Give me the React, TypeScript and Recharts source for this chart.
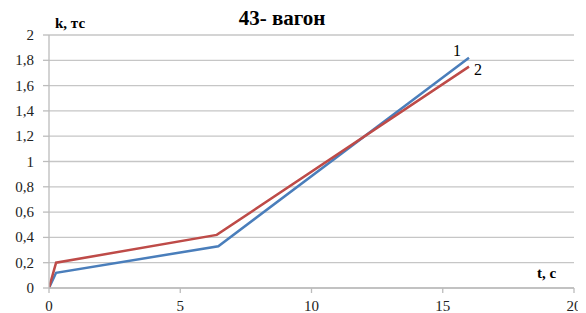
import React from "react";
import { LineChart, Line, XAxis, YAxis, CartesianGrid } from "recharts";

const timeSeries1 = [0, 0.27, 6.45, 16];
const kSeries1 = [0, 0.12, 0.33, 1.82];
const timeSeries2 = [0, 0.27, 6.39, 16];
const kSeries2 = [0, 0.2, 0.42, 1.75];
const xTicks = [0, 5, 10, 15, 20];
const yTicks = [0, 0.2, 0.4, 0.6, 0.8, 1, 1.2, 1.4, 1.6, 1.8, 2];
const chartTitle = "43- вагон";
const yTitle = "k, тс";
const xTitle = "t, с";
const seriesNames = ["1", "2"];

const data1 = timeSeries1.map((t, i) => ({ t, k: kSeries1[i] }));
const data2 = timeSeries2.map((t, i) => ({ t, k: kSeries2[i] }));

const font = "Liberation Serif, Times New Roman, serif";
const fmt = (v: number) => String(v).replace(".", ",");

const XTick = (props: any) => {
  const { x, y, payload } = props;
  return (
    <text x={x} y={y + 11} textAnchor="middle" style={{ fontFamily: font }} fontSize={15} fill="#222">
      {fmt(payload.value)}
    </text>
  );
};

const YTick = (props: any) => {
  const { x, y, payload } = props;
  return (
    <text x={x} y={y + 5} textAnchor="end" style={{ fontFamily: font }} fontSize={15} fill="#222">
      {fmt(payload.value)}
    </text>
  );
};

const EndLabel = (text: string, dx: number, dy: number) => (props: any) => {
  const { x, y, index } = props;
  if (index !== 3) return null;
  return (
    <text x={x + dx} y={y + dy} style={{ fontFamily: font }} fontSize={16} fill="#000" textAnchor="middle">
      {text}
    </text>
  );
};

export default function App() {
  return (
    <div style={{ marginLeft: -8, marginTop: -8, background: "#fff", width: 586, height: 313, fontFamily: font }}>
      <LineChart width={586} height={313} margin={{ top: 35, right: 12, bottom: 0, left: 0 }} style={{ fontFamily: font }}>
        <CartesianGrid vertical={false} stroke="#c6c6c6" strokeWidth={1.3} />
        <XAxis
          type="number"
          dataKey="t"
          domain={[0, 20]}
          ticks={xTicks}
          height={25}
          stroke="#bcbcbc"
          strokeWidth={1.3}
          tickSize={5}
          tick={<XTick />}
          tickMargin={7}
          allowDataOverflow
        />
        <YAxis
          type="number"
          domain={[0, 2]}
          ticks={yTicks}
          width={49}
          stroke="#bcbcbc"
          strokeWidth={1.3}
          tickSize={6}
          tickMargin={9}
          tick={<YTick />}
        />
        <Line
          data={data1}
          dataKey="k"
          type="linear"
          stroke="#4a7ebb"
          strokeWidth={2.5}
          dot={false}
          isAnimationActive={false}
          label={EndLabel(seriesNames[0], -12, -2)}
        />
        <Line
          data={data2}
          dataKey="k"
          type="linear"
          stroke="#be4b48"
          strokeWidth={2.5}
          dot={false}
          isAnimationActive={false}
          label={EndLabel(seriesNames[1], 9, 8)}
        />
        <text x={282} y={25} textAnchor="middle" style={{ fontFamily: font }} fontWeight="bold" fontSize={21} fill="#000">
          {chartTitle}
        </text>
        <text x={55} y={28} style={{ fontFamily: font }} fontWeight="bold" fontSize={15} fill="#000">
          {yTitle}
        </text>
        <text x={537} y={278} style={{ fontFamily: font }} fontWeight="bold" fontSize={15} fill="#000">
          {xTitle}
        </text>
      </LineChart>
    </div>
  );
}
